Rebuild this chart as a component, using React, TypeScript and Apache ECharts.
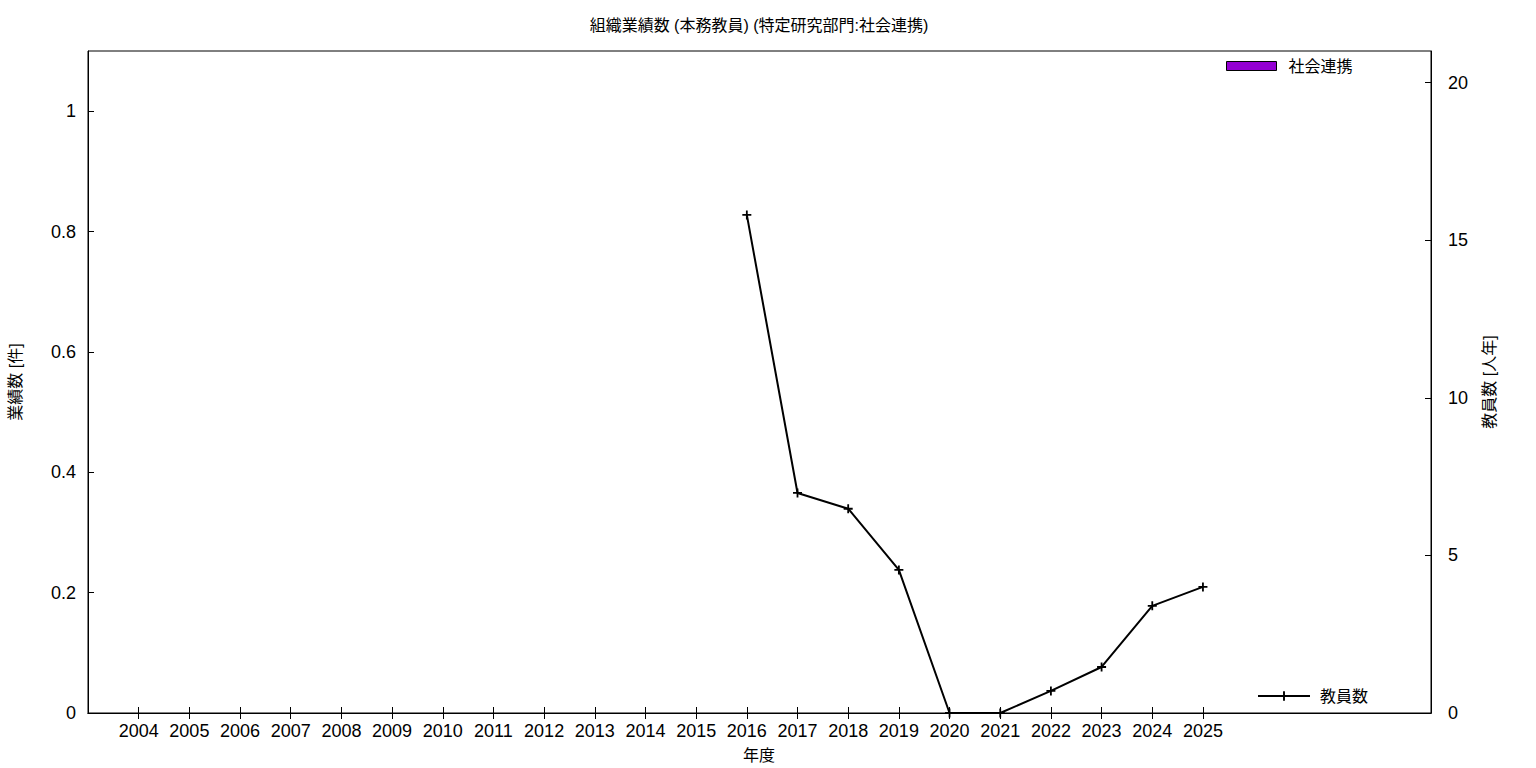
import React, { useEffect, useRef } from 'react';
import * as echarts from 'echarts';

const years = [2004, 2005, 2006, 2007, 2008, 2009, 2010, 2011, 2012, 2013, 2014, 2015, 2016, 2017, 2018, 2019, 2020, 2021, 2022, 2023, 2024, 2025];
const barValues = [0, 0, 0, 0, 0, 0, 0, 0, 0, 0, 0, 0, 0, 0, 0, 0, 0, 0, 0, 0, 0, 0];
const staffYears = [2016, 2017, 2018, 2019, 2020, 2021, 2022, 2023, 2024, 2025];
const staffValues = [15.8, 6.98, 6.48, 4.54, 0, 0, 0.7, 1.46, 3.4, 4.0];
const leftTicks = [0, 0.2, 0.4, 0.6, 0.8, 1];
const rightTicks = [0, 5, 10, 15, 20];

const FONT = '"Liberation Sans", "Noto Sans CJK JP", sans-serif';
const PLUS = 'path://M4,0H6V4H10V6H6V10H4V6H0V4H4Z';

export default function App() {
  const ref = useRef<HTMLDivElement>(null);
  useEffect(() => {
    if (!ref.current) return;
    const chart = echarts.init(ref.current, null, { renderer: 'svg' });
    const xCommon = {
      type: 'value',
      min: 2003,
      max: 2029.5,
      interval: 1,
      splitLine: { show: false },
      axisLine: { show: true, lineStyle: { color: '#000', width: 1 } },
    };
    chart.setOption({
      animation: false,
      backgroundColor: '#fff',
      textStyle: { fontFamily: FONT },
      grid: {
        left: 88,
        right: 105,
        top: 51,
        bottom: 55,
        show: true,
        borderColor: '#000',
        borderWidth: 1,
        backgroundColor: 'transparent',
      },
      legend: [
        {
          data: [{ name: '社会連携', icon: 'rect' }],
          left: 1226,
          top: 58,
          itemWidth: 50,
          itemHeight: 9,
          itemGap: 0,
          itemStyle: { borderColor: '#000', borderWidth: 1 },
          textStyle: { fontFamily: FONT, fontSize: 16, color: '#000', padding: [0, 0, 0, 7] },
          padding: 0,
        },
        {
          data: ['教員数'],
          left: 1257,
          top: 688,
          itemWidth: 52,
          itemHeight: 12,
          textStyle: { fontFamily: FONT, fontSize: 16, color: '#000', padding: [0, 0, 0, 5] },
          padding: 0,
        },
      ],
      xAxis: [
        {
          ...xCommon,
          position: 'bottom',
          axisTick: { show: true, inside: true, length: 6, customValues: years, lineStyle: { color: '#000' } },
          axisLabel: {
            show: true,
            customValues: years,
            margin: 9,
            fontSize: 18,
            color: '#000',
            fontFamily: FONT,
            formatter: (v: number) => String(v),
          },
        },
        {
          ...xCommon,
          position: 'top',
          axisTick: { show: true, inside: true, length: 6, customValues: years, lineStyle: { color: '#000' } },
          axisLabel: { show: false },
        },
      ],
      yAxis: [
        {
          type: 'value',
          min: 0,
          max: 1.1,
          interval: 0.1,
          position: 'left',
          splitLine: { show: false },
          axisLine: { show: true, lineStyle: { color: '#000' } },
          axisTick: { show: true, inside: true, length: 6, customValues: leftTicks, lineStyle: { color: '#000' } },
          axisLabel: {
            customValues: leftTicks,
            margin: 12,
            fontSize: 18,
            color: '#000',
            fontFamily: FONT,
            formatter: (v: number) => String(v),
          },
        },
        {
          type: 'value',
          min: 0,
          max: 21,
          interval: 1,
          position: 'right',
          splitLine: { show: false },
          axisLine: { show: true, lineStyle: { color: '#000' } },
          axisTick: { show: true, inside: true, length: 6, customValues: rightTicks, lineStyle: { color: '#000' } },
          axisLabel: {
            customValues: rightTicks,
            margin: 17,
            fontSize: 18,
            color: '#000',
            fontFamily: FONT,
            formatter: (v: number) => String(v),
          },
        },
      ],
      series: [
        {
          name: '社会連携',
          type: 'bar',
          xAxisIndex: 0,
          yAxisIndex: 0,
          barWidth: 40,
          itemStyle: { color: '#9400D3' },
          data: years.map((y, i) => [y, barValues[i]]),
        },
        {
          name: '教員数',
          type: 'line',
          xAxisIndex: 0,
          yAxisIndex: 1,
          symbol: PLUS,
          symbolSize: 9,
          showSymbol: true,
          lineStyle: { color: '#000', width: 2 },
          itemStyle: { color: '#000' },
          data: staffYears.map((y, i) => [y, staffValues[i]]),
        },
      ],
      graphic: [
        {
          type: 'text',
          x: 759,
          y: 25,
          style: {
            text: '組織業績数 (本務教員) (特定研究部門:社会連携)',
            fontFamily: FONT,
            fontSize: 16,
            fill: '#000',
            align: 'center',
            verticalAlign: 'middle',
          },
        },
        {
          type: 'text',
          x: 759,
          y: 755,
          style: { text: '年度', fontFamily: FONT, fontSize: 16, fill: '#000', align: 'center', verticalAlign: 'middle' },
        },
        {
          type: 'text',
          x: 15,
          y: 382,
          rotation: Math.PI / 2,
          style: { text: '業績数 [件]', fontFamily: FONT, fontSize: 16, fill: '#000', align: 'center', verticalAlign: 'middle' },
        },
        {
          type: 'text',
          x: 1489,
          y: 382,
          rotation: Math.PI / 2,
          style: { text: '教員数 [人年]', fontFamily: FONT, fontSize: 16, fill: '#000', align: 'center', verticalAlign: 'middle' },
        },
      ],
    });
    return () => chart.dispose();
  }, []);
  return <div ref={ref} style={{ position: 'fixed', left: 0, top: 0, width: 1536, height: 768 }} />;
}
